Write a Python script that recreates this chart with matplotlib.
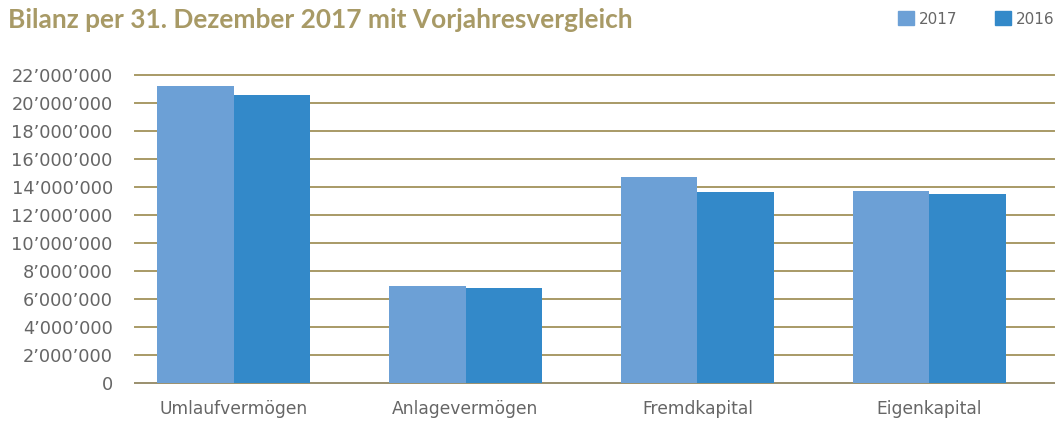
import matplotlib
matplotlib.use("Agg")
import matplotlib.pyplot as plt
import matplotlib.ticker as mticker
import numpy as np

categories = ["Umlaufvermögen", "Anlagevermögen", "Fremdkapital", "Eigenkapital"]
values_2017 = [21_200_000, 6_930_000, 14_700_000, 13_700_000]
values_2016 = [20_570_000, 6_790_000, 13_650_000, 13_500_000]
series_labels = ["2017", "2016"]

c2017 = "#6ca0d6"
c2016 = "#3389c9"
gold = "#a89a66"
grey = "#666666"

plt.rcParams['font.family'] = ['DejaVu Sans']

fig = plt.figure(figsize=(10.61, 4.23), dpi=100)
ax = fig.add_axes([135/1061, 1 - 383/423, (1054 - 135)/1061, (383 - 75)/423])

x = np.arange(len(categories))
w = 0.328
ax.bar(x - w/2, values_2017, width=w, color=c2017, zorder=3)
ax.bar(x + w/2, values_2016, width=w, color=c2016, zorder=3)

ax.set_xlim(-0.425, 3.537)
ax.set_ylim(0, 22_000_000)
ax.yaxis.set_major_locator(mticker.MultipleLocator(2_000_000))
ax.yaxis.set_major_formatter(mticker.FuncFormatter(
    lambda v, p: f"{int(v):,}".replace(",", "\u2019")))
ax.grid(axis='y', color=gold, lw=1.4, zorder=1)
for gl in ax.get_ygridlines():
    gl.set_clip_on(False)
for s in ['top', 'right', 'left']:
    ax.spines[s].set_visible(False)
ax.spines['bottom'].set_color('#9c9272')
ax.spines['bottom'].set_linewidth(1.4)
ax.tick_params(axis='y', length=0, pad=16, labelsize=12.8, labelcolor=grey)
ax.tick_params(axis='x', length=0, pad=12, labelsize=12.3, labelcolor=grey)
ax.set_xticks(x)
ax.set_xticklabels(categories)

fig.text(8/1061, 1 - 20/423, "Bilanz per 31. Dezember 2017 mit Vorjahresvergleich",
         color=gold, fontsize=18.9, fontweight='bold', va='center', ha='left',
         family=['Lato', 'DejaVu Sans'])

# legend
for xs, col, lab in [(898, c2017, series_labels[0]), (995, c2016, series_labels[1])]:
    fig.patches.append(plt.Rectangle((xs/1061, 1 - 25/423), 16/1061, 14/423,
                                     transform=fig.transFigure, color=col))
    fig.text((xs + 21)/1061, 1 - 19/423, lab, color=grey, fontsize=11,
             va='center', ha='left')

fig.savefig("out.png", dpi=100)
